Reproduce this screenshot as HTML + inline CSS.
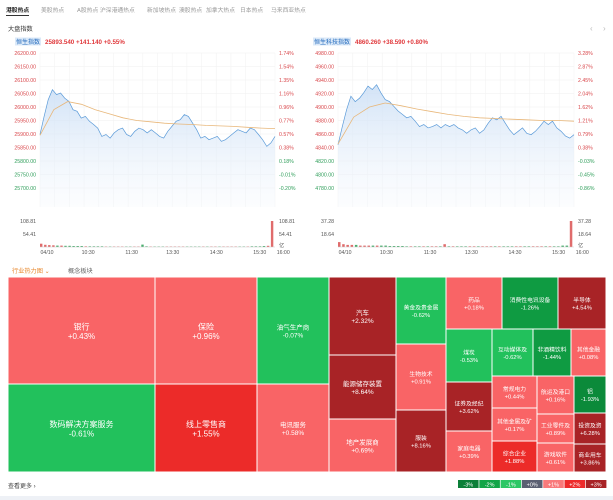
<!DOCTYPE html>
<html><head><meta charset="utf-8">
<style>
*{margin:0;padding:0;box-sizing:border-box}
body{width:613px;height:500px;background:#fff;font-family:"Liberation Sans","Noto Sans CJK SC",sans-serif;overflow:hidden;position:relative}
svg{position:absolute;left:0;top:0}
text{font-family:"Liberation Sans","Noto Sans CJK SC",sans-serif}
</style></head><body>
<svg id="s" width="613" height="500" viewBox="0 0 613 500">
<defs>
<linearGradient id="ga" x1="0" y1="0" x2="0" y2="1"><stop offset="0" stop-color="#cadef5" stop-opacity="0.85"/><stop offset="1" stop-color="#f4f8fd" stop-opacity="0.3"/></linearGradient>
</defs>
<rect x="0" y="496" width="613" height="4" fill="#eef1f6"/>
<g id="tabs">
<text x="6" y="12" font-size="5.8" font-weight="bold" fill="#222">港股热点</text>
<rect x="6" y="15" width="23" height="1" fill="#333"/>
<text x="41" y="12" font-size="5.8" fill="#999">美股热点</text>
<text x="77" y="12" font-size="5.8" fill="#999">A股热点</text>
<text x="100" y="12" font-size="5.8" fill="#999">沪深港通热点</text>
<text x="147" y="12" font-size="5.8" fill="#999">新加坡热点</text>
<text x="179" y="12" font-size="5.8" fill="#999">澳股热点</text>
<text x="206" y="12" font-size="5.8" fill="#999">加拿大热点</text>
<text x="240" y="12" font-size="5.8" fill="#999">日本热点</text>
<text x="271" y="12" font-size="5.8" fill="#999">马来西亚热点</text>
</g>
<text x="8" y="31" font-size="6.2" fill="#333">大盘指数</text>
<text x="590" y="31" font-size="8" fill="#bbb">‹</text>
<text x="603" y="31" font-size="8" fill="#bbb">›</text>
<g id="c1"></g><g id="c2"></g>
<text x="12" y="273" font-size="6.2" fill="#e8892f">行业热力图 ⌄</text>
<text x="68" y="273" font-size="6.2" fill="#666">概念板块</text>
<g id="tm"></g>
<text x="8" y="488" font-size="6" fill="#444">查看更多 ›</text>
<g id="lg"></g>
</svg>
<script>
// ---------- Chart data ----------
const hsiPrice=[25898,25965,26027,26064,26046,26052,26033,26021,25990,25984,25959,25965,25947,25935,25922,25891,25898,25885,25904,25916,25922,25898,25891,25910,25922,25916,25904,25916,25904,25891,25885,25910,25928,25947,25953,25972,25965,25941,25916,25885,25891,25879,25885,25891,25873,25879,25891,25904,25916,25910,25904,25922,25916,25898,25879,25854,25867,25891];
const hsiAvg=[25895,25990,26020,26010,25990,25975,25960,25950,25945,25940,25937,25935,25932,25930,25928,25925,25922,25920];
const hsiVol=[14,9,8,7,6,6,5,5,4,4,4,3,3,3,3,3,2,2,2,2,2,2,2,2,2,10,3,2,2,2,2,2,2,2,2,2,2,2,2,2,2,2,2,2,2,2,2,2,2,2,2,2,3,3,3,4,5,108.81];
const hsiLeftTicks=["26200.00","26150.00","26100.00","26050.00","26000.00","25950.00","25900.00","25850.00","25800.00","25750.00","25700.00"];
const hsiRightTicks=["1.74%","1.54%","1.35%","1.16%","0.96%","0.77%","0.57%","0.38%","0.18%","-0.01%","-0.20%"];
const hstPrice=[4844,4871,4896,4916,4908,4913,4921,4931,4926,4933,4921,4911,4908,4901,4894,4889,4884,4886,4879,4871,4874,4869,4871,4874,4869,4874,4871,4874,4869,4866,4861,4866,4869,4861,4866,4876,4884,4881,4886,4876,4866,4859,4864,4869,4861,4859,4864,4871,4879,4874,4879,4869,4864,4857,4854,4859];
const hstAvg=[4845,4885,4900,4906,4902,4897,4893,4889,4886,4884,4883,4882,4881,4880,4880,4879];
const hstVol=[7,4,3,3,3,2,2,2,2,2,2,2,1.5,1.5,1.5,1.5,1,1,1,1,1,1,1,1,1,4,1,1,1,1,1,1,1,1,1,1,1,1,1,1,1,1,1,1,1,1,1,1,1,1,1,1,1,2,2,37.28];
const hstLeftTicks=["4980.00","4960.00","4940.00","4920.00","4900.00","4880.00","4860.00","4840.00","4820.00","4800.00","4780.00"];
const hstRightTicks=["3.28%","2.87%","2.45%","2.04%","1.62%","1.21%","0.79%","0.38%","-0.03%","-0.45%","-0.86%"];
const timeLabels=["04/10","10:30","11:30","13:30","14:30","15:30","16:00"];
const timeFrac=[0.03,0.205,0.39,0.565,0.75,0.935,1.035];

const NS="http://www.w3.org/2000/svg";
function mk(p,tag,a){const e=document.createElementNS(NS,tag);for(const k in a)e.setAttribute(k,a[k]);p.appendChild(e);return e;}

function chart(gid,o){
  const g=document.getElementById(gid);
  const {x0,x1,yTop,yBot,vmax,vmin,price,avg,vol,lt,rt,title,val,chg,pct,volMax,volLab}=o;
  const sx=(i,n)=>x0+(x1-x0)*i/(n-1);
  const sy=v=>yTop+(vmax-v)/(vmax-vmin)*(yBot-yTop);
  const bx=x0-25;
  const tb=mk(g,'rect',{x:bx,y:37.5,width:o.tw,height:8,fill:'#dbe9f8'});
  
  let t=mk(g,'text',{x:bx+1,y:44,'font-size':6,fill:'#2a6fbf'});t.textContent=title;
  
  t=mk(g,'text',{x:bx+o.tw+4,y:44,'font-size':6.2,fill:'#e0393c','font-weight':'bold'});t.textContent=val+'   '+chg+'   '+pct;
  t.setAttribute('xml:space','preserve');
  
  for(let i=0;i<lt.length;i++){
    const y=yTop+(yBot-yTop)*i/(lt.length-1);
    const l=mk(g,'line',{x1:x0,x2:x1,y1:y,y2:y,stroke:'#f0f0f0','stroke-width':0.6});
    
    const col=i<8?'#d9474b':'#2f9e5a';
    let a=mk(g,'text',{x:x0-4,y:y+2,'font-size':5.2,fill:col,'text-anchor':'end'});a.textContent=lt[i];
    
    a=mk(g,'text',{x:x1+4,y:y+2,'font-size':5.2,fill:col});a.textContent=rt[i];
    
  }
  for(let i=0;i<=16;i++){
    const x=x0+(x1-x0)*i/16;
    const l=mk(g,'line',{x1:x,x2:x,y1:yTop,y2:207,stroke:'#f3f3f3','stroke-width':0.6});
    
  }
  let d='';price.forEach((v,i)=>{d+=(i?'L':'M')+sx(i,price.length).toFixed(1)+','+sy(v).toFixed(1);});
  const ar=mk(g,'path',{d:d+'L'+x1+',207L'+x0+',207Z',fill:'url(#ga)'});
  
  const ln=mk(g,'path',{d:d,fill:'none',stroke:'#5a9ad8','stroke-width':0.7});
  
  let d2='';avg.forEach((v,i)=>{d2+=(i?'L':'M')+sx(i,avg.length).toFixed(1)+','+sy(v).toFixed(1);});
  const al=mk(g,'path',{d:d2,fill:'none',stroke:'#e8b77a','stroke-width':0.8});
  
  const vb=247,vt=221;
  const vy=v=>vb-v/volMax*(vb-vt);
  const bw=(x1-x0)/vol.length;
  vol.forEach((v,i)=>{
    const up=i===0||price[Math.min(i,price.length-1)]>=price[Math.max(i-1,0)];
    const r=mk(g,'rect',{x:(x0+i*bw).toFixed(1),y:vy(v).toFixed(1),width:Math.max(bw*0.6,0.8).toFixed(1),height:(vb-vy(v)).toFixed(1),fill:up?'#e06c6c':'#4caf70'});
    
  });
  const ax=mk(g,'line',{x1:x0,x2:x1,y1:vb,y2:vb,stroke:'#ccc','stroke-width':0.6});
  
  [[volLab[0],vt+2],[volLab[1],(vt+vb)/2+2]].forEach(([s,y])=>{
    let a=mk(g,'text',{x:x0-4,y:y,'font-size':5.2,fill:'#555','text-anchor':'end'});a.textContent=s;
    
    a=mk(g,'text',{x:x1+4,y:y,'font-size':5.2,fill:'#555'});a.textContent=s;
    
  });
  let u=mk(g,'text',{x:x1+4,y:vb,'font-size':5.2,fill:'#555'});u.textContent='亿';
  
  timeLabels.forEach((s,i)=>{
    const a=mk(g,'text',{x:x0+(x1-x0)*timeFrac[i],y:254,'font-size':5.2,fill:'#555','text-anchor':'middle'});a.textContent=s;
    
  });
}
chart('c1',{x0:40,x1:275,yTop:53,yBot:188,vmax:26200,vmin:25700,price:hsiPrice,avg:hsiAvg,vol:hsiVol,lt:hsiLeftTicks,rt:hsiRightTicks,title:'恒生指数',tw:26,val:'25893.540',chg:'+141.140',pct:'+0.55%',volMax:108.81,volLab:['108.81','54.41']});
chart('c2',{x0:338,x1:574,yTop:53,yBot:188,vmax:4980,vmin:4780,price:hstPrice,avg:hstAvg,vol:hstVol,lt:hstLeftTicks,rt:hstRightTicks,title:'恒生科技指数',tw:38,val:'4860.260',chg:'+38.590',pct:'+0.80%',volMax:37.28,volLab:['37.28','18.64']});

// ---------- Treemap ----------
const sectorNames=["银行","保险","油气生产商","数码解决方案服务","线上零售商","电讯服务","汽车","能源储存装置","地产发展商","黄金及贵金属","生物技术","服装","药品","消费性电讯设备","半导体","煤炭","证券及经纪","家庭电器","互动媒体及","非酒精饮料","其他金融","常规电力","其他金属及矿","综合企业","航运及港口","工业零件及","游戏软件","铝","投资及资","商业用车"];
const sectorPct=[0.43,0.96,-0.07,-0.61,1.55,0.58,2.32,8.64,0.69,-0.62,0.91,8.16,0.18,-1.26,4.54,-0.53,3.62,0.39,-0.62,-1.44,0.08,0.44,0.17,1.88,0.16,0.89,0.61,-1.93,6.28,3.86];
const tileLayout=[[8,277,147,107],[155,277,102,107],[257,277,72,107],[8,384,147,88],[155,384,102,88],[257,384,72,88],[329,277,67,78],[329,355,67,64],[329,419,67,53],[396,277,50,67],[396,344,50,66],[396,410,50,62],[446,277,56,52],[502,277,56,52],[558,277,48,52],[446,329,46,53],[446,382,46,49],[446,431,46,41],[492,329,41,47],[533,329,38,47],[571,329,35,47],[492,376,45,32],[492,408,45,33],[492,441,45,31],[537,376,37,38],[537,414,37,29],[537,443,37,29],[574,376,32,37],[574,413,32,31],[574,444,32,28]];
function tileColor(p){
  if(p>=2.2)return '#a82326';
  if(p>=1.2)return '#ec2b29';
  if(p>=0)return '#f96466';
  if(p>-1)return '#22c15c';
  if(p>-1.7)return '#0f9b42';
  return '#0b8a3a';
}
const tm=document.getElementById('tm');
sectorNames.forEach((n,i)=>{
  const [x,y,w,h]=tileLayout[i];
  const r=mk(tm,'rect',{x:x,y:y,width:w,height:h,fill:tileColor(sectorPct[i]),stroke:'#fff','stroke-width':1});
  
  
  const fs=w>90?8:(w>60?6.5:5.8);
  const cx=x+w/2,cy=y+h/2;
  let t=mk(tm,'text',{x:cx,y:cy-1,'font-size':fs,fill:'#fff','text-anchor':'middle'});t.textContent=n;
  
  t=mk(tm,'text',{x:cx,y:cy+fs+0.5,'font-size':fs,fill:'#fff','text-anchor':'middle'});
  t.textContent=(sectorPct[i]>0?'+':'')+sectorPct[i].toFixed(2)+'%';
  
});
// ---------- Legend ----------
const legendLabels=["-3%","-2%","-1%","+0%","+1%","+2%","+3%"];
const legendColors=["#0b7f38","#13a548","#2cc765","#5a5f72","#f97a7b","#ee2b2b","#a82326"];
const lg=document.getElementById('lg');
legendLabels.forEach((s,i)=>{
  const r=mk(lg,'rect',{x:458+i*21.3,y:480,width:20.6,height:8,fill:legendColors[i]});
  
  const t=mk(lg,'text',{x:458+i*21.3+10.3,y:486.3,'font-size':5.5,fill:'#fff','text-anchor':'middle'});t.textContent=s;
  
});
</script>
</body></html>
